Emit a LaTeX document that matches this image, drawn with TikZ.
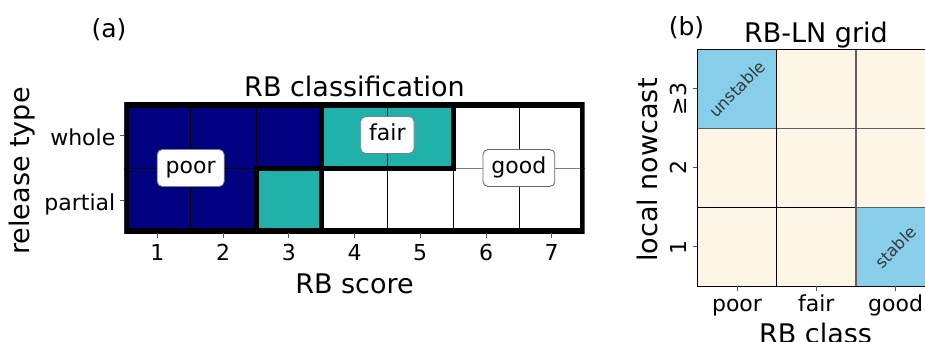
\documentclass[tikz,border=0pt]{standalone}
\usepackage{fontspec}
\setmainfont{DejaVu Sans}
\definecolor{navyc}{HTML}{000080}
\definecolor{tealc}{HTML}{20B2AA}
\definecolor{skyc}{HTML}{87CEEB}
\definecolor{lacec}{HTML}{FDF5E6}
\definecolor{gridg}{HTML}{606060}
\newcommand{\fsbig}{\fontsize{27}{27}\selectfont}
\newcommand{\fslab}{\fontsize{25}{25}\selectfont}
\newcommand{\fstick}{\fontsize{22}{22}\selectfont}
\newcommand{\fssmall}{\fontsize{16.5}{16.5}\selectfont}
\tikzset{
  biglabel/.style={font=\fsbig, inner sep=0pt},
  panellabel/.style={font=\fslab, inner sep=0pt},
  ticklabel/.style={font=\fstick, inner sep=0pt},
  classbox/.style={font=\fstick, fill=white, draw=gray, rounded corners=5pt,
    inner xsep=8.5pt, inner ysep=8.2pt, text height=16pt, text depth=4.5pt, line width=0.8pt},
  thickline/.style={line width=5pt, black, line join=miter},
  thinline/.style={line width=0.8pt, black},
  tickmark/.style={line width=0.8pt, black!65},
  celltext/.style={font=\fssmall, text=black!78, rotate=45, inner sep=0pt},
  gridline/.style={line width=1.4pt, gridg},
  darkline/.style={line width=1.4pt, black},
}
\begin{document}
\begin{tikzpicture}[x=1pt,y=-1pt]
\path[use as bounding box] (0,0) rectangle (925,342);
\clip (0,0) rectangle (925,342);

% ---------------- panel (a) ----------------
\node[panellabel] (la) at (109,29.5) {(a)};
\node[biglabel, anchor=base] (ta) at (354.5,96.5) {RB classification};

% fills
\fill[white] (124.4,103) rectangle (584.6,233);
\fill[navyc] (124.4,103) -- (321.7,103) -- (321.7,168) -- (256,168) -- (256,233) -- (124.4,233) -- cycle;
\fill[tealc] (321.7,103) rectangle (453.2,168);
\fill[tealc] (256,168) rectangle (321.7,233);

% thin cell lines
\foreach \x in {190.7,256,321.7,387.4,453.2,518.9}
  \draw[thinline] (\x,103) -- (\x,233);
\draw[thinline] (124.4,168) -- (453.2,168);
\draw[line width=0.8pt, gray] (453.2,168) -- (584.6,168);

% thick region borders
\begin{scope}
  \clip (124.4,103) rectangle (584.6,233);
  \draw[line width=10pt] (124.4,103) rectangle (584.6,233);
  \draw[thickline] (321.7,103) -- (321.7,168) -- (256,168) -- (256,233);
  \draw[thickline] (453.2,103) -- (453.2,168) -- (321.7,168) -- (321.7,233);
\end{scope}

% class labels
\node[classbox] (poor) at (190.7,168) {poor};
\node[classbox] (fair) at (387.4,135) {fair};
\node[classbox, draw=black!60] (good) at (518.9,168) {good};

% ticks
\draw[tickmark] (119.8,135.5) -- (124.4,135.5);
\draw[tickmark] (119.8,200.5) -- (124.4,200.5);
\node[ticklabel, anchor=base east] (yw) at (115.5,145) {whole};
\node[ticklabel, anchor=base east] (yp) at (115.5,210) {partial};
\foreach \i/\x in {1/157.3,2/223.0,3/288.8,4/354.5,5/420.2,6/486.0,7/551.7}{
  \draw[tickmark] (\x,233) -- (\x,237.5);
  \node[ticklabel, anchor=base] (xt\i) at (\x,260) {\i};
}
\node[biglabel, anchor=base] (xa) at (354.5,293.5) {RB score};
\node[biglabel, rotate=90] (ya) at (22,171) {release type};

% ---------------- panel (b) ----------------
\node[panellabel] (lb) at (686.5,28) {(b)};
\node[biglabel, anchor=base] (tb) at (816,43) {RB-LN grid};

\fill[lacec] (697.3,49.3) rectangle (935.2,286.3);
\fill[skyc] (697.3,49.3) rectangle (776.6,128.3);
\fill[skyc] (855.9,207.3) rectangle (935.2,286.3);

\draw[gridline] (697.3,128.3) -- (935.2,128.3);
\draw[gridline] (855.9,207.3) -- (935.2,207.3);
\draw[darkline] (697.3,207.3) -- (855.9,207.3);
\draw[gridline] (855.9,49.3) -- (855.9,286.3);
\draw[darkline] (776.6,49.3) -- (776.6,286.3);
\draw[line width=1.2pt, black] (935.2,49.3) -- (697.3,49.3) -- (697.3,286.3) -- (935.2,286.3);

\node[celltext] (unst) at (737,89) {unstable};
\node[celltext] (stab) at (895.6,247) {stable};

\foreach \n/\x/\t in {p/737/poor,f/816.3/fair,g/895.6/good}{
  \draw[tickmark] (\x,286.3) -- (\x,290.8);
  \node[ticklabel, anchor=base] (bx\n) at (\x,311.7) {\t};
}
\foreach \n/\y in {a/88.8,b/167.8,c/246.8}
  \draw[tickmark] (692.8,\y) -- (697.3,\y);
\node[ticklabel, rotate=90] (by3) at (678,99) {≥3};
\node[ticklabel, rotate=90] (by2) at (678,167.8) {2};
\node[ticklabel, rotate=90] (by1) at (678,247.3) {1};

\node[biglabel, anchor=base] (xb) at (815.5,343) {RB class};
\node[biglabel, rotate=90] (yb) at (647.5,170) {local nowcast};
\end{tikzpicture}
\end{document}
